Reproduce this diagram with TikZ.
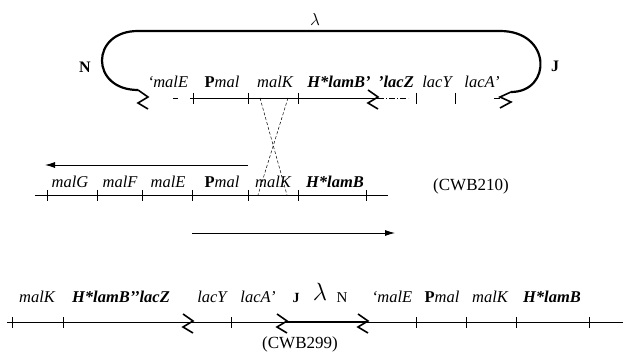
\documentclass[tikz,border=0pt]{standalone}
\usepackage{fontspec}
\setmainfont{Liberation Serif}
\usetikzlibrary{arrows.meta}
\tikzset{
  gene/.style={font=\fontsize{16.5}{19}\selectfont\itshape, inner sep=0pt},
  bgene/.style={font=\fontsize{16.5}{19}\selectfont\bfseries\itshape, inner sep=0pt},
  sigla/.style={font=\fontsize{17}{20}\selectfont, inner sep=0pt},
  estremo/.style={font=\fontsize{16}{19}\selectfont\bfseries, inner sep=0pt},
  dna/.style={line width=0.6pt},
  tacca/.style={line width=0.8pt},
  fago/.style={line width=2.2pt},
  freccia/.style={line width=0.9pt,-{Latex[length=10pt,width=6pt]}},
  incrocio/.style={line width=0.5pt, dash pattern=on 3pt off 2pt},
  rottura/.pic={\draw[line width=1.6pt, line join=miter] (-10,-8)--(0,-1)--(-10,5)--(0,11);},
  rotturad/.pic={\draw[line width=1.6pt, line join=miter] (11,-6)--(0,-1)--(11,4)--(0,10);}
}
\begin{document}
\begin{tikzpicture}[x=1pt,y=-1pt]
        \useasboundingbox (0,0) rectangle (623,352);
        %lambda integrato
        \coordinate (lz) at (138,90);
        \coordinate (la) at (138,31);
        \coordinate (lb) at (500,31);
        \coordinate (rz) at (511,92);
        \draw[fago] (lz) .. controls (90,90) and (90,31) .. (la) -- (lb) .. controls (552,31) and (552,92) .. (rz);
        \node[sigla] (lam1) at (315,20) {$\lambda$};
        \node[estremo] (N1) at (85,67) {N};
        \node[estremo] (J1) at (555,66) {J};
        \pic at (148,98) {rottura};
        \pic at (500,98) {rotturad};
        %cromosoma di partenza
        \coordinate (a0) at (190,98);
        \coordinate (a1) at (378,98);
        \coordinate (a2) at (408,98);
        \draw[dna] (173,98)--(178,98); %trattino
        \draw[dna] (a0)--(a1);
        \pic at (a1) {rottura};
        \draw[dna, dash pattern=on 6pt off 2pt on 1pt off 2pt] (a1)--(a2);
        \draw[dna] (494,98)--(500,98);
        \foreach \x in {193,248,298,416,455} \draw[tacca] (\x,93)--(\x,104);
        \node[gene] (malE1) at (168,82) {‘malE};
        \node[gene] (Pmal1) at (222,82) {\textbf{\upshape P}mal};
        \node[gene] (malK1) at (275,82) {malK};
        \node[bgene] (lamB1) at (339,82) {H*lamB’};
        \node[bgene] (lacZ1) at (396,82) {’lacZ};
        \node[gene] (lacY1) at (437,82) {lacY};
        \node[gene] (lacA1) at (482,82) {lacA’};
        %ricombinazione
        \draw[incrocio] (260,98)--(287,195);
        \draw[incrocio] (288,98)--(258,195);
        %CWB210
        \coordinate (b0) at (35,195);
        \coordinate (b1) at (388,195);
        \draw[dna] (b0)--(b1);
        \foreach \x in {47,97,142,192,248,298,366} \draw[tacca] (\x,190)--(\x,201);
        \node[gene] (malG2) at (70,182) {malG};
        \node[gene] (malF2) at (120,182) {malF};
        \node[gene] (malE2) at (168,182) {malE};
        \node[gene] (Pmal2) at (222,182) {\textbf{\upshape P}mal};
        \node[gene] (malK2) at (273,182) {malK};
        \node[bgene] (lamB2) at (335,182) {H*lamB};
        \node[sigla] (cwb210) at (471,186) {(CWB210)};
        \coordinate (f1a) at (248,165);
        \coordinate (f1b) at (45,165);
        \coordinate (f2a) at (192,233);
        \coordinate (f2b) at (395,233);
        \draw[freccia] (f1a)--(f1b);
        \draw[freccia] (f2a)--(f2b);
        %CWB299
        \coordinate (c0) at (7,322);
        \coordinate (c1) at (287,322);
        \coordinate (c2) at (368,322);
        \coordinate (c3) at (623,322);
        \draw[dna] (c0)--(c1);
        \draw[fago] (c1)--(c2);
        \draw[dna] (c2)--(c3);
        \pic at (193,322) {rottura};
        \pic at (c1) {rottura};
        \pic at (c2) {rottura};
        \foreach \x in {12,63,231,416,466,516,589} \draw[tacca] (\x,317)--(\x,328);
        \node[gene] (malK3) at (37,297) {malK};
        \node[bgene] (lacZ3) at (121,297) {H*lamB’’lacZ};
        \node[gene] (lacY3) at (212,297) {lacY};
        \node[gene] (lacA3) at (258,297) {lacA’};
        \node[estremo, font=\fontsize{14}{16}\selectfont\bfseries] (J3) at (296,298) {J};
        \node[font=\fontsize{30}{32}\selectfont] (lam3) at (320,292) {$\lambda$};
        \node[font=\fontsize{15}{17}\selectfont, inner sep=0pt] (N3) at (342,298) {N};
        \node[gene] (malE3) at (392,297) {‘malE};
        \node[gene] (Pmal3) at (442,297) {\textbf{\upshape P}mal};
        \node[gene] (malK3b) at (490,297) {malK};
        \node[bgene] (lamB3) at (552,297) {H*lamB};
        \node[sigla] (cwb299) at (300,344) {(CWB299)};
\end{tikzpicture}
\end{document}
